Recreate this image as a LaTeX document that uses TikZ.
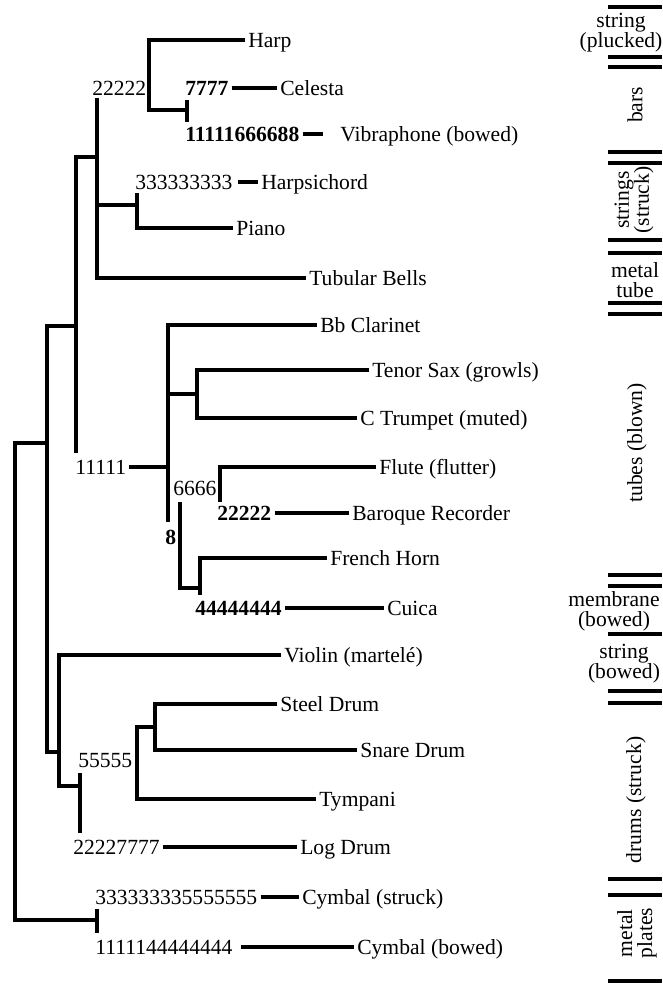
\documentclass[tikz,border=0pt]{standalone}
\usepackage{fontspec}
\setmainfont{Liberation Serif}
\newcommand\fsz{\fontsize{16.2pt}{15pt}\selectfont}
\begin{document}
\begin{tikzpicture}[x=0.75pt,y=-0.75pt,
  branch/.style={line width=3.7pt, line join=miter},
  sepbar/.style={line width=3pt},
  leaf/.style={anchor=west, inner xsep=2.25pt, inner ysep=0pt, text height=10.7pt, text depth=0pt, font=\fsz},
  num/.style={leaf},
  numb/.style={leaf, font=\fsz\bfseries},
  side/.style={align=center, inner sep=0pt, font=\fsz},
  siderot/.style={align=center, inner sep=0pt, rotate=90, font=\fsz}]
\useasboundingbox (0,0) rectangle (662,983);

% leaves
\node[leaf] (harp) at (245,40) {Harp};
\node[leaf] (celesta) at (277,88) {Celesta};
\node[leaf] (vibra) at (337,134) {Vibraphone (bowed)};
\node[leaf] (harpsi) at (258,182) {Harpsichord};
\node[leaf] (piano) at (233,228) {Piano};
\node[leaf] (tubular) at (306,278) {Tubular Bells};
\node[leaf] (clarinet) at (317,325) {Bb Clarinet};
\node[leaf] (tenor) at (369,370) {Tenor Sax (growls)};
\node[leaf] (trumpet) at (357,418) {C Trumpet (muted)};
\node[leaf] (flute) at (376,467) {Flute (flutter)};
\node[leaf] (baroque) at (349,513) {Baroque Recorder};
\node[leaf] (horn) at (327,558) {French Horn};
\node[leaf] (cuica) at (384,608) {Cuica};
\node[leaf] (violin) at (281,655) {Violin (martelé)};
\node[leaf] (steel) at (277,704) {Steel Drum};
\node[leaf] (snare) at (357,750) {Snare Drum};
\node[leaf] (tympani) at (316,799) {Tympani};
\node[leaf] (logdrum) at (297,847) {Log Drum};
\node[leaf] (cyms) at (299,897) {Cymbal (struck)};
\node[leaf] (cymb) at (354,947) {Cymbal (bowed)};

% number labels
\node[num] (ta) at (89,88) {22222};
\node[numb] (tb) at (182,88) {7777};
\node[numb] (tvib) at (182,134) {11111666688};
\node[num] (tc) at (132,182) {333333333};
\node[num] (td) at (72,467) {11111};
\node[num] (te) at (170,488) {6666};
\node[numb] (tf) at (214,513) {22222};
\node[numb] (tg) at (162,537) {8};
\node[numb] (th) at (192,608) {44444444};
\node[num] (ti) at (75,760) {55555};
\node[num] (tj) at (70,847) {22227777};
\node[num] (tk) at (92,897) {333333335555555};
\node[num] (tl) at (92,947) {1111144444444};

% junction coordinates
\coordinate (a1) at (149,110); \coordinate (a2) at (187,110);
\coordinate (a3) at (187,100); \coordinate (a4) at (187,122);
\coordinate (vibend) at (323,134);
\coordinate (b1) at (97,98);
\coordinate (c1) at (97,205); \coordinate (c2) at (137,205); \coordinate (c3) at (137,193);
\coordinate (d1) at (97,157); \coordinate (d2) at (76,453);
\coordinate (e1) at (76,326); \coordinate (e2) at (47,752); \coordinate (e3) at (59,752);
\coordinate (f1) at (47,443); \coordinate (f2) at (15,920); \coordinate (f3) at (97,920);
\coordinate (f4) at (97,909); \coordinate (f5) at (97,933);
\coordinate (g1) at (168,522); \coordinate (g2) at (168,394); \coordinate (g3) at (197,394);
\coordinate (h1) at (220,502);
\coordinate (i1) at (180,502); \coordinate (i2) at (200,588); \coordinate (i3) at (200,595);
\coordinate (k1) at (59,786); \coordinate (k2) at (80,786);
\coordinate (k3) at (80,773); \coordinate (k4) at (80,833);
\coordinate (m1) at (155,727); \coordinate (m2) at (137,727);

% tree
\draw[branch] (harp.west) -| (a1) -- (a2);
\draw[branch] (a3) -- (a4);
\draw[branch] (tb.east) -- (tb.east -| celesta.west);
\draw[branch] (tvib.east) -- (vibend);
\draw[branch] (b1) |- (tubular.west);
\draw[branch] (c1) -- (c2);
\draw[branch] (c3) |- (piano.west);
\draw[branch] ([xshift=2pt]tc.east) -- (tc.east -| harpsi.west);
\draw[branch] (d1) -| (d2);
\draw[branch] (e1) -| (e2) -- (e3);
\draw[branch] (f1) -| (f2) -- (f3);
\draw[branch] (f4) -- (f5);
\draw[branch] (clarinet.west) -| (g1);
\draw[branch] (td.east) -- (td.east -| g1);
\draw[branch] (g2) -- (g3);
\draw[branch] (tenor.west) -| (g3) |- (trumpet.west);
\draw[branch] (flute.west) -| (h1);
\draw[branch] (tf.east) -- (tf.east -| baroque.west);
\draw[branch] (i1) |- (i2);
\draw[branch] (horn.west) -| (i3);
\draw[branch] (th.east) -- (th.east -| cuica.west);
\draw[branch] (violin.west) -| (k1) -- (k2);
\draw[branch] (k3) -- (k4);
\draw[branch] (steel.west) -| (m1) |- (snare.west);
\draw[branch] (m1) -- (m2) |- (tympani.west);
\draw[branch] (tj.east) -- (tj.east -| logdrum.west);
\draw[branch] (tk.east) -- (tk.east -| cyms.west);
\draw[branch] ([xshift=4pt]tl.east) -- (tl.east -| cymb.west);

% right-hand group separators
\foreach \yy in {7,57,67,152,163,240,253,303,314,575,586,634,691,703,879,895,981}
  \draw[sepbar] (608,\yy) -- (662,\yy);

% group labels
\node[side] (gsp) at (621,33) {string\\(plucked)};
\node[siderot] (gbars) at (635,105) {bars};
\node[siderot] (gss) at (634,200) {strings\\(struck)};
\node[side] (gmt) at (635,280) {metal\\tube};
\node[siderot] (gtb) at (637,443) {tubes (blown)};
\node[side] (gmb) at (614,611) {membrane\\(bowed)};
\node[side] (gsb) at (624,664) {string\\(bowed)};
\node[siderot] (gds) at (636,800) {drums (struck)};
\node[siderot] (gmp) at (637,933) {metal\\plates};
\end{tikzpicture}
\end{document}
